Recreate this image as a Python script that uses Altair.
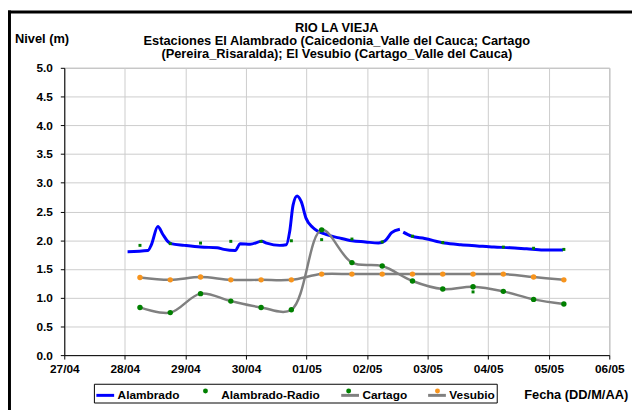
import altair as alt
import pandas as pd

FONT = "Liberation Sans"

# ---- Alambrado (continuous record) ----
alambrado_fecha = [
    "2011-04-28T01:05", "2011-04-28T09:10", "2011-04-28T10:30", "2011-04-28T13:05",
    "2011-04-28T15:05", "2011-04-28T17:00", "2011-04-28T18:20", "2011-04-28T23:35",
    "2011-04-29T06:05", "2011-04-29T12:35", "2011-04-29T15:15", "2011-04-29T19:45",
    "2011-04-29T21:45", "2011-04-30T01:40", "2011-04-30T06:15", "2011-04-30T08:10",
    "2011-04-30T13:25", "2011-04-30T16:00", "2011-04-30T17:20", "2011-04-30T18:40",
    "2011-04-30T20:15", "2011-04-30T21:55", "2011-04-30T23:50", "2011-05-01T02:30",
    "2011-05-01T07:40", "2011-05-01T12:55", "2011-05-01T18:05", "2011-05-01T23:20",
    "2011-05-02T04:30", "2011-05-02T07:10", "2011-05-02T09:45", "2011-05-02T13:00",
    "2011-05-02T14:20", "2011-05-02T17:35", "2011-05-02T22:50", "2011-05-03T06:40",
    "2011-05-03T13:10", "2011-05-03T19:40", "2011-05-04T02:15", "2011-05-04T08:45",
    "2011-05-04T15:15", "2011-05-04T21:50", "2011-05-05T05:40",
]
alambrado_nivel = [
    1.80, 1.82, 1.92, 2.24, 2.10, 1.98, 1.94, 1.91,
    1.88, 1.87, 1.84, 1.82, 1.94, 1.93, 1.98, 1.95,
    1.91, 1.92, 2.15, 2.61, 2.77, 2.67, 2.38, 2.22,
    2.10, 2.04, 1.99, 1.97, 1.95, 1.99, 2.13, 2.19,
    2.14, 2.07, 2.03, 1.95, 1.92, 1.90, 1.88, 1.87,
    1.85, 1.83, 1.83,
]
alambrado_tramo = [1] * 32 + [2] * 11   # the record has a gap on 02/05

# ---- 12-hourly readings ----
horas = [
    "2011-04-28T06:00", "2011-04-28T18:00", "2011-04-29T06:00", "2011-04-29T18:00",
    "2011-04-30T06:00", "2011-04-30T18:00", "2011-05-01T06:00", "2011-05-01T18:00",
    "2011-05-02T06:00", "2011-05-02T18:00", "2011-05-03T06:00", "2011-05-03T18:00",
    "2011-05-04T06:00", "2011-05-04T18:00", "2011-05-05T06:00",
]
radio = [1.91, 1.94, 1.95, 1.98, 1.98, 1.99, 2.01, 2.02, 1.97, 2.07, 1.96, 1.10, 1.88, 1.86, 1.84]
cartago = [0.83, 0.74, 1.07, 0.94, 0.83, 0.79, 2.18, 1.61, 1.55, 1.29, 1.15, 1.19, 1.11, 0.97, 0.89]
vesubio = [1.35, 1.31, 1.36, 1.31, 1.31, 1.31, 1.41, 1.41, 1.41, 1.41, 1.41, 1.41, 1.41, 1.36, 1.31]

series = ["Alambrado", "Alambrado-Radio", "Cartago", "Vesubio"]
codigos = ["a", "b", "c", "d"]
dias = [(4, 27), (4, 28), (4, 29), (4, 30), (5, 1), (5, 2), (5, 3), (5, 4), (5, 5), (5, 6)]
niveles_eje = [0.0, 0.5, 1.0, 1.5, 2.0, 2.5, 3.0, 3.5, 4.0, 4.5, 5.0]

titulo = [
    "RIO LA VIEJA",
    "Estaciones El Alambrado (Caicedonia_Valle del Cauca; Cartago",
    "(Pereira_Risaralda);  El Vesubio (Cartago_Valle del Cauca)",
]

# ---- tables ----
df_a = pd.DataFrame({"fecha": alambrado_fecha, "nivel": alambrado_nivel,
                     "tramo": alambrado_tramo, "serie": series[0]})
df_r = pd.DataFrame({"fecha": horas, "nivel": radio, "serie": series[1], "codigo": codigos[1]})
df_c = pd.DataFrame({"fecha": horas, "nivel": cartago, "serie": series[2], "codigo": codigos[2]})
df_v = pd.DataFrame({"fecha": horas, "nivel": vesubio, "serie": series[3], "codigo": codigos[3]})
df_cv = pd.concat([df_c, df_v], ignore_index=True)

day_values = [alt.DateTime(year=2011, month=m, date=d) for m, d in dias]

axis_style = dict(labelFont=FONT, labelFontSize=12, labelFontWeight="bold", labelColor="black",
                  titleFont=FONT, titleFontSize=13, titleFontWeight="bold", titleColor="black",
                  domainColor="black", domainWidth=1, tickColor="black", tickWidth=1,
                  tickSize=4, gridColor="#cccccc", gridWidth=1, labelFlush=False)

x_enc = alt.X(
    "fecha:T",
    scale=alt.Scale(domain=[day_values[0], day_values[-1]], nice=False),
    axis=alt.Axis(values=day_values, format="%d/%m", labelOverlap=False,
                  labelPadding=5, title="Fecha (DD/M/AA)",
                  titleX=518, titleY=40, titleAlign="center", titleBaseline="middle",
                  titleAngle=0, **axis_style),
)
y_enc = alt.Y(
    "nivel:Q",
    scale=alt.Scale(domain=[0, 5], nice=False),
    axis=alt.Axis(values=niveles_eje, format=".1f", labelPadding=8,
                  title="Nivel (m)", titleAngle=0, titleX=-23, titleY=-30,
                  titleAlign="center", titleBaseline="middle", **axis_style),
)

stroke_scale = alt.Scale(domain=series, range=["#0000ff", "transparent", "#808080", "#808080"])
fill_scale = alt.Scale(domain=codigos, range=["transparent", "#008000", "#008000", "#f7941d"])

common_leg = dict(title=None, orient="none", legendY=320, direction="horizontal",
                  columns=4, symbolStrokeWidth=3, labelFont=FONT,
                  labelFontSize=12, labelFontWeight="bold", columnPadding=14, padding=1)

# line symbols (with the labels and the box)
legend_a = alt.Legend(symbolType="stroke", symbolSize=324, labelOffset=2, legendX=30,
                      labelColor="black", strokeColor="black", zindex=0, **common_leg)
# marker symbols drawn on top of the line symbols (labels invisible, same layout)
legend_b = alt.Legend(
    symbolType="circle", symbolSize=25, labelOffset=15, legendX=29,
    labelColor="transparent", symbolStrokeColor="transparent", zindex=1,
    labelExpr="datum.label == 'a' ? 'Alambrado' : datum.label == 'b' ? 'Alambrado-Radio' : "
              "datum.label == 'c' ? 'Cartago' : 'Vesubio'",
    **common_leg,
)

blue = alt.Chart(df_a).mark_line(strokeWidth=3, interpolate="monotone").encode(
    x=x_enc, y=y_enc,
    stroke=alt.Stroke("serie:N", scale=stroke_scale, legend=legend_a),
    detail="tramo:N",
)
gray = alt.Chart(df_cv).mark_line(strokeWidth=2.5, interpolate="catmull-rom").encode(
    x=x_enc, y=y_enc,
    stroke=alt.Stroke("serie:N", scale=stroke_scale, legend=legend_a),
)
pts_cv = alt.Chart(df_cv).mark_point(filled=True, size=30, opacity=1, strokeWidth=0).encode(
    x=x_enc, y=y_enc,
    fill=alt.Fill("codigo:N", scale=fill_scale, legend=legend_b),
)
pts_r = alt.Chart(df_r).mark_square(size=9, opacity=1).encode(
    x=x_enc, y=y_enc,
    fill=alt.Fill("codigo:N", scale=fill_scale, legend=legend_b),
)

frame_data = alt.Data(values=[{}])
frame_left = alt.Chart(frame_data).mark_rule(color="black", strokeWidth=3).encode(
    x=alt.value(-55.5), y=alt.value(-58), y2=alt.value(400))
frame_top = alt.Chart(frame_data).mark_rule(color="black", strokeWidth=3).encode(
    x=alt.value(-57), x2=alt.value(600), y=alt.value(-56.5))

chart = alt.layer(blue, gray, pts_cv, pts_r, frame_left, frame_top).properties(
    width=552,
    height=291,
    autosize=alt.AutoSizeParams(type="none"),
    padding={"left": 57, "top": 58, "right": 23, "bottom": 53},
    title=alt.TitleParams(text=titulo, font=FONT, fontSize=13, fontWeight="bold",
                          color="black", anchor="middle", frame="group", offset=4,
                          lineHeight=13.5, dy=57),
).configure_view(
    stroke="#a0a0a0", strokeWidth=1
)

chart.save("out.html", embed_options={"renderer": "svg", "actions": False})
